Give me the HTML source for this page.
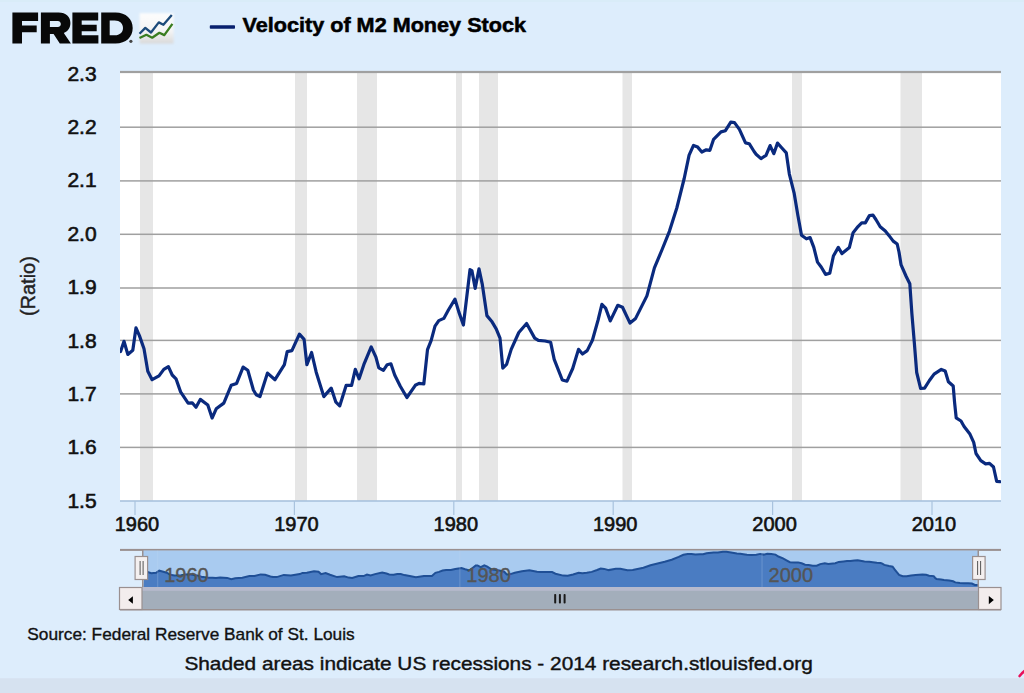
<!DOCTYPE html>
<html><head><meta charset="utf-8"><style>
html,body{margin:0;padding:0;width:1024px;height:693px;overflow:hidden;background:#ddedfc;}
svg{display:block;}
text{font-family:"Liberation Sans",sans-serif;}
</style></head><body>
<svg width="1024" height="693" viewBox="0 0 1024 693">
<rect x="0" y="0" width="1024" height="693" fill="#ddedfc"/>
<rect x="0" y="678.2" width="1024" height="15" fill="#d6e2f0"/>
<rect x="0" y="0" width="1024" height="2" fill="#d9ecf8"/>
<rect x="120" y="72" width="881" height="429" fill="#ffffff"/>
<rect x="140" y="72" width="13" height="429" fill="#e6e6e6"/>
<rect x="295" y="72" width="12" height="429" fill="#e6e6e6"/>
<rect x="357" y="72" width="20" height="429" fill="#e6e6e6"/>
<rect x="456" y="72" width="6" height="429" fill="#e6e6e6"/>
<rect x="479" y="72" width="19" height="429" fill="#e6e6e6"/>
<rect x="622.5" y="72" width="9.5" height="429" fill="#e6e6e6"/>
<rect x="792" y="72" width="10" height="429" fill="#e6e6e6"/>
<rect x="900.5" y="72" width="21.5" height="429" fill="#e6e6e6"/>
<rect x="120" y="70.9" width="881" height="2.2" fill="#a0a0a0"/>
<rect x="120" y="126.45" width="881" height="1.5" fill="#a0a0a0"/>
<rect x="120" y="180.15" width="881" height="1.5" fill="#a0a0a0"/>
<rect x="120" y="233.55" width="881" height="1.5" fill="#a0a0a0"/>
<rect x="120" y="287.25" width="881" height="1.5" fill="#a0a0a0"/>
<rect x="120" y="339.65" width="881" height="1.5" fill="#a0a0a0"/>
<rect x="120" y="393.15" width="881" height="1.5" fill="#a0a0a0"/>
<rect x="120" y="446.65" width="881" height="1.5" fill="#a0a0a0"/>
<rect x="120" y="500.2" width="881" height="1.6" fill="#a9c3de"/>
<rect x="134.4" y="501" width="1.2" height="14" fill="#a9c3de"/>
<rect x="293.79999999999995" y="501" width="1.2" height="14" fill="#a9c3de"/>
<rect x="453.2" y="501" width="1.2" height="14" fill="#a9c3de"/>
<rect x="612.6" y="501" width="1.2" height="14" fill="#a9c3de"/>
<rect x="772.0" y="501" width="1.2" height="14" fill="#a9c3de"/>
<rect x="931.4" y="501" width="1.2" height="14" fill="#a9c3de"/>
<clipPath id="pc"><rect x="120" y="60" width="881" height="441"/></clipPath>
<polyline clip-path="url(#pc)" points="120.6,351.6 124.0,341.3 127.8,354.4 132.8,350.3 136.0,327.8 139.4,335.6 144.0,348.8 147.8,371.2 152.1,379.7 159.0,375.9 163.8,369.4 168.4,366.6 172.2,375.0 176.0,378.8 180.6,391.9 188.1,403.1 192.2,402.8 196.0,407.2 200.3,399.4 207.8,405.0 212.1,418.1 216.2,408.8 223.8,403.1 231.2,385.3 236.6,383.4 243.1,367.1 247.8,370.3 253.4,390.0 256.2,394.7 260.0,396.6 267.5,373.1 275.0,379.7 284.4,364.7 287.2,351.6 291.9,350.6 299.4,334.1 304.1,339.4 306.9,364.7 311.6,352.5 316.2,372.2 323.8,396.6 331.2,388.1 335.9,402.2 339.7,405.9 346.2,385.3 351.6,385.3 355.3,369.4 359.1,378.8 363.8,364.7 371.2,346.9 375.9,357.2 378.8,367.9 383.4,370.3 387.2,364.7 390.9,363.8 394.7,375.0 400.3,386.2 406.9,397.5 415.3,385.3 419.1,383.4 423.8,384.0 427.5,349.7 431.2,340.3 435.0,326.2 438.8,320.6 443.8,318.4 448.4,310.0 455.0,299.1 458.8,311.9 463.4,325.0 470.0,269.7 471.9,270.6 475.2,288.4 479.0,268.8 482.2,283.8 486.9,315.6 491.6,321.2 496.2,328.8 500.0,338.1 502.8,368.1 506.6,364.4 511.2,349.4 518.8,332.5 526.6,323.5 534.7,338.1 538.4,340.4 545.0,341.0 550.6,342.2 554.2,359.3 562.3,380.0 567.0,381.2 572.7,368.5 578.5,349.4 582.5,354.0 587.2,350.6 592.4,340.2 598.1,320.0 601.9,304.4 605.6,308.1 610.3,320.9 617.8,305.3 622.5,307.2 630.0,323.1 635.6,318.4 646.9,295.9 654.4,267.8 661.9,250.0 669.4,231.3 676.8,208.0 684.2,178.5 689.1,155.2 693.5,145.4 697.7,147.1 701.8,152.0 706.3,149.8 709.9,150.3 713.6,139.3 721.0,131.9 725.4,130.7 730.8,122.1 734.5,122.6 739.4,129.4 745.5,142.9 749.2,143.7 754.1,151.5 756.1,154.2 761.0,158.6 766.0,155.4 770.1,145.6 773.8,153.7 777.5,143.1 781.9,148.0 786.3,152.9 789.3,173.8 794.2,193.4 797.9,215.5 801.5,235.2 806.4,238.8 810.1,237.6 813.8,247.4 817.5,262.1 821.2,267.0 825.6,274.4 829.8,273.2 833.4,256.0 838.3,247.4 842.0,253.6 849.4,247.4 853.1,232.7 858.0,226.6 861.7,222.9 865.3,222.9 869.4,215.6 873.0,215.2 875.9,219.5 880.2,226.7 885.3,231.0 888.9,235.4 893.2,241.1 897.2,244.0 899.0,252.0 901.1,264.9 906.2,276.5 909.8,283.7 911.9,313.8 914.3,342.4 916.7,372.5 920.6,388.4 924.6,388.1 929.4,380.5 934.1,374.1 941.3,369.4 945.2,371.0 948.4,381.7 953.2,386.0 954.6,402.7 956.2,417.8 961.0,421.0 964.1,426.5 969.7,433.7 973.7,442.4 976.0,453.5 980.8,460.6 985.6,463.8 989.5,463.3 993.5,467.0 996.7,481.3 999.8,481.7" fill="none" stroke="#0a2a7e" stroke-width="3.2" stroke-linejoin="round" stroke-linecap="round"/>
<text x="96.6" y="80.70" text-anchor="end" font-family="Liberation Sans" font-size="21" fill="#111" stroke="#111" stroke-width="0.6">2.3</text>
<text x="96.6" y="134.06" text-anchor="end" font-family="Liberation Sans" font-size="21" fill="#111" stroke="#111" stroke-width="0.6">2.2</text>
<text x="96.6" y="187.42" text-anchor="end" font-family="Liberation Sans" font-size="21" fill="#111" stroke="#111" stroke-width="0.6">2.1</text>
<text x="96.6" y="240.78" text-anchor="end" font-family="Liberation Sans" font-size="21" fill="#111" stroke="#111" stroke-width="0.6">2.0</text>
<text x="96.6" y="294.14" text-anchor="end" font-family="Liberation Sans" font-size="21" fill="#111" stroke="#111" stroke-width="0.6">1.9</text>
<text x="96.6" y="347.50" text-anchor="end" font-family="Liberation Sans" font-size="21" fill="#111" stroke="#111" stroke-width="0.6">1.8</text>
<text x="96.6" y="400.86" text-anchor="end" font-family="Liberation Sans" font-size="21" fill="#111" stroke="#111" stroke-width="0.6">1.7</text>
<text x="96.6" y="454.22" text-anchor="end" font-family="Liberation Sans" font-size="21" fill="#111" stroke="#111" stroke-width="0.6">1.6</text>
<text x="96.6" y="507.58" text-anchor="end" font-family="Liberation Sans" font-size="21" fill="#111" stroke="#111" stroke-width="0.6">1.5</text>
<text x="137.0" y="531" text-anchor="middle" font-family="Liberation Sans" font-size="20" fill="#111" stroke="#111" stroke-width="0.6">1960</text>
<text x="296.4" y="531" text-anchor="middle" font-family="Liberation Sans" font-size="20" fill="#111" stroke="#111" stroke-width="0.6">1970</text>
<text x="455.8" y="531" text-anchor="middle" font-family="Liberation Sans" font-size="20" fill="#111" stroke="#111" stroke-width="0.6">1980</text>
<text x="615.2" y="531" text-anchor="middle" font-family="Liberation Sans" font-size="20" fill="#111" stroke="#111" stroke-width="0.6">1990</text>
<text x="774.6" y="531" text-anchor="middle" font-family="Liberation Sans" font-size="20" fill="#111" stroke="#111" stroke-width="0.6">2000</text>
<text x="934.0" y="531" text-anchor="middle" font-family="Liberation Sans" font-size="20" fill="#111" stroke="#111" stroke-width="0.6">2010</text>
<text transform="translate(35.3,286.1) rotate(-90)" text-anchor="middle" font-family="Liberation Sans" font-size="21" textLength="60" lengthAdjust="spacingAndGlyphs" fill="#222" stroke="#222" stroke-width="0.4">(Ratio)</text>
<rect x="209.8" y="25.2" width="25.2" height="3.5" rx="0.8" fill="#08206e"/>
<text x="242.5" y="31.7" font-family="Liberation Sans" font-weight="bold" font-size="19.5" fill="#000" stroke="#000" stroke-width="0.5" textLength="283.5" lengthAdjust="spacingAndGlyphs">Velocity of M2 Money Stock</text>
<path fill="#080808" fill-rule="evenodd" d="M12.4,12.4 H38.1 V21 H22 V25.4 H36.7 V32.3 H22 V43.5 H12.4 Z M40.9,12.5 H58.5 C66.2,12.5 70.4,17 70.4,23 C70.4,28 67.8,31.4 63.8,33 L70.9,43.4 H59.8 L53.6,34.1 H49.9 V43.4 H40.9 Z M49.9,20.9 V27 H57.8 C59.8,27 60.8,25.6 60.8,24 C60.8,22.3 59.8,20.9 57.8,20.9 Z M72.4,12.4 H98.2 V20.6 H81.7 V24.7 H96.7 V31.2 H81.7 V35.3 H98.4 V43.5 H72.4 Z M101.2,12.4 H115.5 C126,12.4 132.7,19 132.7,28 C132.7,37 126,43.5 115.5,43.5 H101.2 Z M109.7,20.6 V35.3 H114.8 C119.8,35.3 123,32.3 123,28 C123,23.6 119.8,20.6 114.8,20.6 Z"/>
<circle cx="130.9" cy="41.3" r="1.6" fill="#444"/>
<defs><linearGradient id="lg" x1="0" y1="0" x2="0" y2="1"><stop offset="0" stop-color="#fdfdfd"/><stop offset="0.6" stop-color="#f4f4f4"/><stop offset="1" stop-color="#d9d9d9"/></linearGradient><filter id="bl" x="-20%" y="-20%" width="140%" height="140%"><feGaussianBlur stdDeviation="0.9"/></filter></defs>
<rect x="139.6" y="13.2" width="34" height="30.4" fill="url(#lg)" filter="url(#bl)"/>
<polyline points="139.5,33.7 145.3,27.9 151,32.5 158.8,22.4 163.4,24.7 171.8,14.9" fill="none" stroke="#1d4b7a" stroke-width="2.3" stroke-linejoin="round"/>
<polyline points="139.5,38 146.4,34.8 152.2,37.7 159.4,32.8 164.3,35.1 172.4,23.9" fill="none" stroke="#3a7d20" stroke-width="2.3" stroke-linejoin="round"/>
<rect x="120" y="548.9" width="881" height="2" fill="#9a9090"/>
<rect x="143" y="550.5" width="835" height="37" fill="#a9cbf0"/>
<polygon points="143.5,587 144.6,572.9 147.8,572.0 151.3,573.2 156.1,572.8 159.2,570.7 162.4,571.5 166.7,572.7 170.3,574.8 174.4,575.5 181.0,575.2 185.5,574.6 189.9,574.3 193.5,575.1 197.1,575.4 201.4,576.7 208.5,577.7 212.5,577.7 216.0,578.1 220.1,577.4 227.2,577.9 231.3,579.1 235.2,578.2 242.3,577.7 249.4,576.1 254.5,575.9 260.7,574.4 265.1,574.7 270.4,576.5 273.1,576.9 276.7,577.1 283.8,574.9 290.9,575.5 299.8,574.1 302.5,572.9 306.9,572.8 314.0,571.3 318.5,571.8 321.1,574.1 325.6,573.0 330.0,574.8 337.1,577.1 344.2,576.3 348.6,577.6 352.2,578.0 358.4,576.1 363.5,576.1 367.0,574.6 370.6,575.4 375.0,574.1 382.1,572.5 386.5,573.5 389.2,574.4 393.6,574.7 397.2,574.1 400.8,574.1 404.4,575.1 409.7,576.1 415.9,577.2 423.9,576.1 427.5,575.9 431.9,575.9 435.4,572.8 439.0,571.9 442.6,570.6 446.1,570.1 450.8,569.9 455.3,569.1 461.5,568.1 465.1,569.3 469.5,570.5 475.7,565.4 477.5,565.4 480.7,567.1 484.3,565.3 487.3,566.7 491.7,569.6 496.2,570.1 500.6,570.8 504.2,571.7 506.8,574.5 510.4,574.1 514.8,572.7 521.9,571.2 529.4,570.3 537.0,571.7 540.6,571.9 546.8,572.0 552.1,572.1 555.5,573.7 563.2,575.6 567.7,575.7 573.1,574.5 578.6,572.7 582.4,573.2 586.8,572.8 591.7,571.9 597.1,570.0 600.7,568.6 604.2,568.9 608.7,570.1 615.8,568.7 620.3,568.8 627.4,570.3 632.7,569.9 643.4,567.8 650.5,565.2 657.6,563.5 664.7,561.8 671.7,559.7 678.7,556.9 683.4,554.8 687.6,553.9 691.5,554.0 695.4,554.5 699.7,554.3 703.1,554.3 706.6,553.3 713.6,552.6 717.8,552.5 722.9,551.7 726.4,551.8 731.1,552.4 736.8,553.6 740.3,553.7 745.0,554.4 746.9,554.7 751.5,555.1 756.3,554.8 760.2,553.9 763.7,554.6 767.2,553.7 771.3,554.1 775.5,554.6 778.4,556.5 783.0,558.3 786.5,560.3 789.9,562.2 794.6,562.5 798.1,562.4 801.6,563.3 805.1,564.7 808.6,565.1 812.8,565.8 816.7,565.7 820.2,564.1 824.8,563.3 828.3,563.9 835.3,563.3 838.8,561.9 843.5,561.4 847.0,561.0 850.4,561.0 854.3,560.4 857.7,560.3 860.4,560.7 864.5,561.4 869.3,561.8 872.8,562.2 876.8,562.7 880.6,563.0 882.3,563.7 884.3,564.9 889.1,566.0 892.6,566.7 894.6,569.4 896.8,572.1 899.1,574.9 902.8,576.3 906.6,576.3 911.1,575.6 915.6,575.0 922.4,574.6 926.1,574.7 929.1,575.7 933.7,576.1 935.0,577.7 936.5,579.1 941.1,579.4 944.0,579.9 949.3,580.5 953.1,581.3 955.3,582.4 959.9,583.0 964.4,583.3 968.1,583.3 971.9,583.6 974.9,584.9 977.9,585.0 977.9,587" fill="#4a7cc2"/>
<polyline points="144.6,572.9 147.8,572.0 151.3,573.2 156.1,572.8 159.2,570.7 162.4,571.5 166.7,572.7 170.3,574.8 174.4,575.5 181.0,575.2 185.5,574.6 189.9,574.3 193.5,575.1 197.1,575.4 201.4,576.7 208.5,577.7 212.5,577.7 216.0,578.1 220.1,577.4 227.2,577.9 231.3,579.1 235.2,578.2 242.3,577.7 249.4,576.1 254.5,575.9 260.7,574.4 265.1,574.7 270.4,576.5 273.1,576.9 276.7,577.1 283.8,574.9 290.9,575.5 299.8,574.1 302.5,572.9 306.9,572.8 314.0,571.3 318.5,571.8 321.1,574.1 325.6,573.0 330.0,574.8 337.1,577.1 344.2,576.3 348.6,577.6 352.2,578.0 358.4,576.1 363.5,576.1 367.0,574.6 370.6,575.4 375.0,574.1 382.1,572.5 386.5,573.5 389.2,574.4 393.6,574.7 397.2,574.1 400.8,574.1 404.4,575.1 409.7,576.1 415.9,577.2 423.9,576.1 427.5,575.9 431.9,575.9 435.4,572.8 439.0,571.9 442.6,570.6 446.1,570.1 450.8,569.9 455.3,569.1 461.5,568.1 465.1,569.3 469.5,570.5 475.7,565.4 477.5,565.4 480.7,567.1 484.3,565.3 487.3,566.7 491.7,569.6 496.2,570.1 500.6,570.8 504.2,571.7 506.8,574.5 510.4,574.1 514.8,572.7 521.9,571.2 529.4,570.3 537.0,571.7 540.6,571.9 546.8,572.0 552.1,572.1 555.5,573.7 563.2,575.6 567.7,575.7 573.1,574.5 578.6,572.7 582.4,573.2 586.8,572.8 591.7,571.9 597.1,570.0 600.7,568.6 604.2,568.9 608.7,570.1 615.8,568.7 620.3,568.8 627.4,570.3 632.7,569.9 643.4,567.8 650.5,565.2 657.6,563.5 664.7,561.8 671.7,559.7 678.7,556.9 683.4,554.8 687.6,553.9 691.5,554.0 695.4,554.5 699.7,554.3 703.1,554.3 706.6,553.3 713.6,552.6 717.8,552.5 722.9,551.7 726.4,551.8 731.1,552.4 736.8,553.6 740.3,553.7 745.0,554.4 746.9,554.7 751.5,555.1 756.3,554.8 760.2,553.9 763.7,554.6 767.2,553.7 771.3,554.1 775.5,554.6 778.4,556.5 783.0,558.3 786.5,560.3 789.9,562.2 794.6,562.5 798.1,562.4 801.6,563.3 805.1,564.7 808.6,565.1 812.8,565.8 816.7,565.7 820.2,564.1 824.8,563.3 828.3,563.9 835.3,563.3 838.8,561.9 843.5,561.4 847.0,561.0 850.4,561.0 854.3,560.4 857.7,560.3 860.4,560.7 864.5,561.4 869.3,561.8 872.8,562.2 876.8,562.7 880.6,563.0 882.3,563.7 884.3,564.9 889.1,566.0 892.6,566.7 894.6,569.4 896.8,572.1 899.1,574.9 902.8,576.3 906.6,576.3 911.1,575.6 915.6,575.0 922.4,574.6 926.1,574.7 929.1,575.7 933.7,576.1 935.0,577.7 936.5,579.1 941.1,579.4 944.0,579.9 949.3,580.5 953.1,581.3 955.3,582.4 959.9,583.0 964.4,583.3 968.1,583.3 971.9,583.6 974.9,584.9 977.9,585.0" fill="none" stroke="#1f4f96" stroke-width="2"/>
<rect x="157.21679909194097" y="550.5" width="1" height="37" fill="#c8dcf4" opacity="0.25"/>
<text x="164.21679909194097" y="582.2" font-family="Liberation Sans" font-size="20" fill="#555" stroke="#555" stroke-width="0.35">1960</text>
<rect x="459.37116912599316" y="550.5" width="1" height="37" fill="#c8dcf4" opacity="0.25"/>
<text x="466.37116912599316" y="582.2" font-family="Liberation Sans" font-size="20" fill="#555" stroke="#555" stroke-width="0.35">1980</text>
<rect x="761.5255391600454" y="550.5" width="1" height="37" fill="#c8dcf4" opacity="0.25"/>
<text x="768.5255391600454" y="582.2" font-family="Liberation Sans" font-size="20" fill="#555" stroke="#555" stroke-width="0.35">2000</text>
<rect x="142" y="550" width="1.5" height="38" fill="#9a9090"/>
<rect x="977.5" y="550" width="1.5" height="38" fill="#9a9090"/>
<rect x="135.1" y="556.5" width="12.5" height="23" fill="#f4f0f0" stroke="#9a9090" stroke-width="1.2"/>
<rect x="139.6" y="561" width="1" height="14" fill="#555"/>
<rect x="142.6" y="561" width="1" height="14" fill="#555"/>
<rect x="972.6" y="556.5" width="12.5" height="23" fill="#f4f0f0" stroke="#9a9090" stroke-width="1.2"/>
<rect x="977.1" y="561" width="1" height="14" fill="#555"/>
<rect x="980.1" y="561" width="1" height="14" fill="#555"/>
<rect x="142" y="588" width="836" height="22" fill="#a3aebb"/>
<rect x="142" y="587" width="836" height="3.8" fill="#b6bacd"/>
<rect x="119.5" y="587.5" width="22.5" height="22" fill="#f3eded" stroke="#9a9090" stroke-width="1.2"/>
<rect x="978.5" y="587.5" width="22.5" height="22" fill="#f3eded" stroke="#9a9090" stroke-width="1.2"/>
<rect x="120" y="609" width="881" height="1.5" fill="#9a9090"/>
<polygon points="128.2,600 132.9,596.2 132.9,603.8" fill="#000"/>
<polygon points="993.8,600 988.8,595.9 988.8,604.2" fill="#000"/>
<rect x="554.2" y="594" width="2" height="9.5" rx="0.8" fill="#1a1a1a"/>
<rect x="558.9" y="594" width="2" height="9.5" rx="0.8" fill="#1a1a1a"/>
<rect x="563.6" y="594" width="2" height="9.5" rx="0.8" fill="#1a1a1a"/>
<text x="27.3" y="639.9" font-family="Liberation Sans" font-size="17" fill="#111" stroke="#111" stroke-width="0.35" textLength="327.4" lengthAdjust="spacingAndGlyphs">Source: Federal Reserve Bank of St. Louis</text>
<text x="184.4" y="670" font-family="Liberation Sans" font-size="19" fill="#111" stroke="#111" stroke-width="0.4" textLength="628.4" lengthAdjust="spacingAndGlyphs">Shaded areas indicate US recessions - 2014 research.stlouisfed.org</text>
<polyline points="1019.6,676 1022.3,673 1024.5,671" fill="none" stroke="#e8105a" stroke-width="2.6" stroke-linecap="round"/>
</svg></body></html>
